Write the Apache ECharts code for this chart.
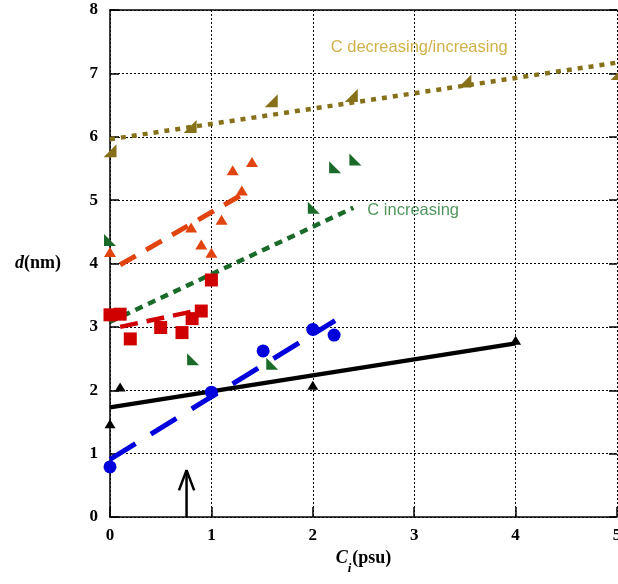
<!DOCTYPE html>
<html>
<head>
<meta charset="utf-8">
<script src="https://cdn.jsdelivr.net/npm/echarts@6/dist/echarts.min.js"></script>
<style>
  html, body { margin: 0; padding: 0; background: #fff; }
  #chart { width: 618px; height: 584px; }
</style>
</head>
<body>
<div id="chart"></div>
<script>
// ---------- data ----------
const xTicks = [0, 1, 2, 3, 4, 5];
const yTicks = [0, 1, 2, 3, 4, 5, 6, 7, 8];

// measured points [C_i (psu), d (nm)]
const olivePts  = [[0, 5.78], [0.79, 6.16], [1.59, 6.57], [2.38, 6.65], [3.5, 6.88], [5.0, 7.0]];
const orangePts = [[0, 4.18], [0.8, 4.57], [0.9, 4.3], [1.0, 4.17], [1.1, 4.69], [1.21, 5.47], [1.3, 5.15], [1.4, 5.6]];
const redPts    = [[0, 3.19], [0.1, 3.2], [0.2, 2.81], [0.5, 2.99], [0.71, 2.91], [0.81, 3.13], [0.9, 3.25], [1.0, 3.74]];
const greenPts  = [[0, 4.37], [0.82, 2.49], [1.6, 2.42], [2.01, 4.88], [2.22, 5.52], [2.42, 5.64]];
const bluePts   = [[0, 0.79], [1.0, 1.97], [1.51, 2.62], [2.0, 2.96], [2.21, 2.87]];
const blackPts  = [[0, 1.47], [0.1, 2.05], [2.0, 2.08], [4.0, 2.79]];

// fitted lines (end points)
const oliveFit  = [[0, 5.96], [5, 7.17]];
const orangeFit = [[0.1, 3.98], [1.35, 5.13]];
const redFit    = [[0.1, 3.0], [0.95, 3.29]];
const greenFit  = [[0, 3.08], [2.4, 4.88]];
const blueFit   = [[0, 0.91], [2.22, 3.1]];
const blackFit  = [[0, 1.73], [4, 2.74]];

// arrow marking the threshold
const arrowShaft = [[0.755, 0], [0.755, 0.74]];
const arrowHead  = [[0.68, 0.42], [0.755, 0.74], [0.83, 0.42]];

// text annotations [x, y, text, colour]
const notes = [
    [3.05, 7.41, "C decreasing/increasing", "#c49c1c"],
    [2.99, 4.83, "C increasing", "#237a35"]
];

// ---------- helpers ----------
const SERIF = "'Liberation Serif', 'DejaVu Serif', serif";
const SANS = "'Liberation Sans', Arial, sans-serif";
const RTRI_L = "path://M0,10 L0,0 L10,10 Z";   // right angle bottom-left
const RTRI_R = "path://M0,10 L10,0 L10,10 Z";  // right angle bottom-right

function fitLine(data, color, width, dash, z) {
    return {
        type: "line", data: data, symbol: "none", silent: true, z: z || 2,
        lineStyle: { color: color, width: width, type: dash, cap: "butt", opacity: 1 }
    };
}
function pts(data, color, symbol, size) {
    return {
        type: "scatter", data: data, symbol: symbol, symbolSize: size,
        itemStyle: { color: color, opacity: 1 }, z: 4, clip: false, silent: true
    };
}

const chart = echarts.init(document.getElementById("chart"));
const option = {
    animation: false,
    backgroundColor: "#fff",
    grid: { left: 110, right: 1, top: 10, bottom: 67, outerBoundsMode: "none", containLabel: false },
    xAxis: [{
        type: "value", min: 0, max: 5, interval: 1,
        name: "{c|C}{i|i}{p|(psu)}",
        nameLocation: "middle", nameGap: 16,
        nameTextStyle: {
            rich: {
                c: { fontFamily: SERIF, fontSize: 18, fontWeight: "bold", fontStyle: "italic", color: "#000" },
                i: { fontFamily: SERIF, fontSize: 13, fontWeight: "bold", fontStyle: "italic", color: "#000", padding: [22, 1, 0, 0] },
                p: { fontFamily: SERIF, fontSize: 18, fontWeight: "bold", color: "#000" }
            }
        },
        axisLine: { onZero: false, lineStyle: { color: "#000", width: 1.5 } },
        axisTick: { inside: true, length: 10, lineStyle: { color: "#000", width: 1.5 } },
        axisLabel: {
            margin: 10, fontFamily: SERIF, fontSize: 17, fontWeight: "bold", color: "#000",
            formatter: v => xTicks.includes(v) ? String(v) : ""
        },
        splitLine: { show: true, lineStyle: { color: "#000", width: 1, type: [2, 2] } }
    }, {
        type: "value", min: 0, max: 5, interval: 1, position: "top",
        axisLine: { show: true, onZero: false, lineStyle: { color: "#000", width: 1.5 } },
        axisTick: { show: false }, axisLabel: { show: false }, splitLine: { show: false }
    }],
    yAxis: [{
        type: "value", min: 0, max: 8, interval: 1,
        name: "{d|d}{n|(nm)}",
        nameLocation: "middle", nameRotate: 0, nameGap: 49,
        nameTextStyle: {
            align: "right",
            rich: {
                d: { fontFamily: SERIF, fontSize: 18, fontWeight: "bold", fontStyle: "italic", color: "#000" },
                n: { fontFamily: SERIF, fontSize: 18, fontWeight: "bold", color: "#000" }
            }
        },
        axisLine: { show: true, onZero: false, lineStyle: { color: "#000", width: 1.5 } },
        axisTick: { inside: true, length: 9, lineStyle: { color: "#000", width: 1.5 } },
        axisLabel: {
            margin: 12, fontFamily: SERIF, fontSize: 17, fontWeight: "bold", color: "#000",
            formatter: v => yTicks.includes(v) ? String(v) : ""
        },
        splitLine: { show: true, lineStyle: { color: "#000", width: 1, type: [2, 2] } }
    }, {
        type: "value", min: 0, max: 8, interval: 1, position: "right",
        axisLine: { show: false, onZero: false },
        axisTick: { show: true, inside: true, length: 8, lineStyle: { color: "#000", width: 1.5 } },
        axisLabel: { show: false }, splitLine: { show: false }
    }],
    series: [
        fitLine(oliveFit, "#86711a", 4.5, [5, 6]),
        fitLine(orangeFit, "#e2440f", 5, [18, 12]),
        fitLine(redFit, "#d00000", 4.5, [18, 9]),
        fitLine(greenFit, "#1a6b2a", 4.5, [8, 6]),
        fitLine(blueFit, "#0000dd", 5, [30, 18]),
        fitLine(blackFit, "#000", 4.5, "solid"),

        pts(olivePts, "#86711a", RTRI_R, 13),
        pts(orangePts, "#e2440f", "triangle", [12, 10]),
        pts(redPts, "#d00000", "rect", 13),
        pts(greenPts, "#1a6b2a", RTRI_L, 12),
        pts(bluePts, "#0000dd", "circle", 13),
        pts(blackPts, "#000", "triangle", [11, 9]),

        fitLine(arrowShaft, "#000", 2.5, "solid", 5),
        fitLine(arrowHead, "#000", 2.5, "solid", 5),

        {
            type: "scatter", silent: true, symbolSize: 0, z: 6,
            data: notes.map(n => ({
                value: [n[0], n[1]],
                label: {
                    show: true, position: "inside", formatter: n[2],
                    fontFamily: SANS, fontSize: 16.5, color: n[3]
                }
            }))
        }
    ]
};
chart.setOption(option);
</script>
</body>
</html>
